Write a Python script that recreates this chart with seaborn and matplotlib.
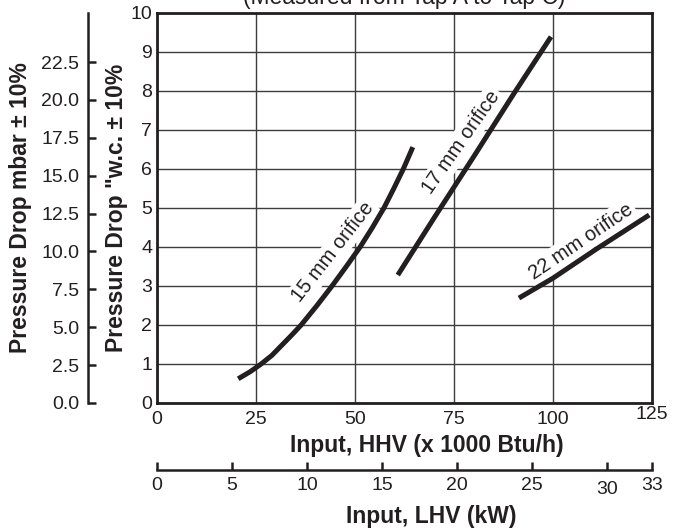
import matplotlib
matplotlib.use('Agg')
import matplotlib.pyplot as plt
import matplotlib.transforms as mtransforms
import seaborn as sns

# curves: input HHV (x 1000 Btu/h) vs pressure drop ("w.c.)
hhv_15 = [20.5, 23.5, 26.3, 29.0, 31.7, 34.1, 36.4, 40.4, 44.2, 47.8,
          51.3, 54.4, 57.3, 59.8, 62.2, 64.6]
wc_15 = [0.62, 0.80, 1.0, 1.22, 1.5, 1.75, 2.0, 2.5, 3.0, 3.5,
         4.0, 4.5, 5.0, 5.5, 6.0, 6.56]

hhv_17 = [60.8, 70, 80, 90.1, 99.5]
wc_17 = [3.28, 4.75, 6.32, 7.93, 9.39]

hhv_22 = [91.4, 100, 111, 124.3]
wc_22 = [2.69, 3.2, 3.95, 4.82]

curve_labels = ['15 mm orifice', '17 mm orifice', '22 mm orifice']

# axis ticks
hhv_ticks = [0, 25, 50, 75, 100, 125]
wc_ticks = [0, 1, 2, 3, 4, 5, 6, 7, 8, 9, 10]
mbar_ticks = [0.0, 2.5, 5.0, 7.5, 10.0, 12.5, 15.0, 17.5, 20.0, 22.5]
lhv_ticks = [0, 5, 10, 15, 20, 25, 30, 33]

# scale factors of the extra axes as drawn
mbar_per_wc = 2.574
kw_per_kbtu = 33 / 125

sns.set_theme(style='white')
plt.rcParams['font.family'] = ['Liberation Sans', 'DejaVu Sans']

ink = '#231f20'

fig = plt.figure(figsize=(6.73, 5.31), dpi=100)
ax = fig.add_axes([0.2333, 0.2411, 0.7355, 0.7345])

# =============================================================================
# curves
# =============================================================================
for xs, ys in [(hhv_15, wc_15), (hhv_17, wc_17), (hhv_22, wc_22)]:
    sns.lineplot(x=xs, y=ys, ax=ax, color=ink, lw=3.6,
                 solid_capstyle='butt', solid_joinstyle='round', zorder=5)

# curve labels with white halo that breaks the grid
label_pos = [(44.4, 3.86, 52), (76.8, 6.68, 55), (107.1, 4.14, 34)]
for txt, (lx, ly, rot) in zip(curve_labels, label_pos):
    ax.text(lx, ly, txt, rotation=rot, ha='center', va='center',
            fontsize=14.5, color=ink, zorder=4,
            bbox=dict(facecolor='white', edgecolor='none', pad=2))

ax.set_xlim(0, 125)
ax.set_ylim(0, 10)
ax.set_xticks(hhv_ticks)
ax.set_yticks(wc_ticks)
ax.grid(True, color='#3d3d3d', lw=1.0)
ax.set_axisbelow(True)
for s in ax.spines.values():
    s.set_linewidth(2.0)
    s.set_color(ink)
ax.tick_params(length=0, labelsize=14, colors=ink)
ax.tick_params(axis='x', pad=5.5)
ax.tick_params(axis='y', pad=3.5)

ax.set_xlabel('Input, HHV (x 1000 Btu/h)', fontsize=16.5, fontweight='bold',
              color=ink, va='center')
ax.xaxis.set_label_coords(0.545, -0.108)
ax.set_ylabel('Pressure Drop "w.c. \u00b1 10%', fontsize=16.5, fontweight='bold',
              color=ink, va='center')
ax.yaxis.set_label_coords(-0.081, 0.5)

ax.set_title('(Measured from Tap A to Tap C)', fontsize=16.5, color=ink,
             y=1.023, pad=0, va='baseline')

# =============================================================================
# mbar axis on the far left
# =============================================================================
mbar = ax.secondary_yaxis(-0.139, functions=(lambda v: v * mbar_per_wc,
                                             lambda v: v / mbar_per_wc))
mbar.set_yticks(mbar_ticks)
mbar.set_yticklabels([f'{t:.1f}' for t in mbar_ticks])
mbar.tick_params(direction='in', length=6, width=1.8, labelsize=14,
                 pad=6.5, colors=ink)
for s in mbar.spines.values():
    s.set_linewidth(1.8)
    s.set_color(ink)
mbar.set_ylabel('Pressure Drop mbar \u00b1 10%', fontsize=16.5,
                fontweight='bold', color=ink, va='center')
mbar.yaxis.set_label_coords(-0.275, 0.5, transform=ax.transAxes)

# =============================================================================
# kW (LHV) axis below
# =============================================================================
lhv = ax.secondary_xaxis(-0.1718, functions=(lambda v: v * kw_per_kbtu,
                                             lambda v: v / kw_per_kbtu))
lhv.set_xticks(lhv_ticks)
lhv.tick_params(direction='in', length=6, width=1.8, labelsize=14,
                pad=5, colors=ink)
for s in lhv.spines.values():
    s.set_linewidth(1.8)
    s.set_color(ink)
lhv.set_xlabel('Input, LHV (kW)', fontsize=16.5, fontweight='bold',
               color=ink, va='center')
lhv.xaxis.set_label_coords(0.555, -0.292, transform=ax.transAxes)

# small offsets of single tick labels as in the original
for lab in ax.get_xticklabels():
    if lab.get_text() == '125':
        lab.set_transform(lab.get_transform() +
                          mtransforms.ScaledTranslation(0, 0.05, fig.dpi_scale_trans))
for lab in lhv.get_xticklabels():
    if lab.get_text() == '30':
        lab.set_transform(lab.get_transform() +
                          mtransforms.ScaledTranslation(0, -0.04, fig.dpi_scale_trans))

fig.savefig('out.png', dpi=100)
